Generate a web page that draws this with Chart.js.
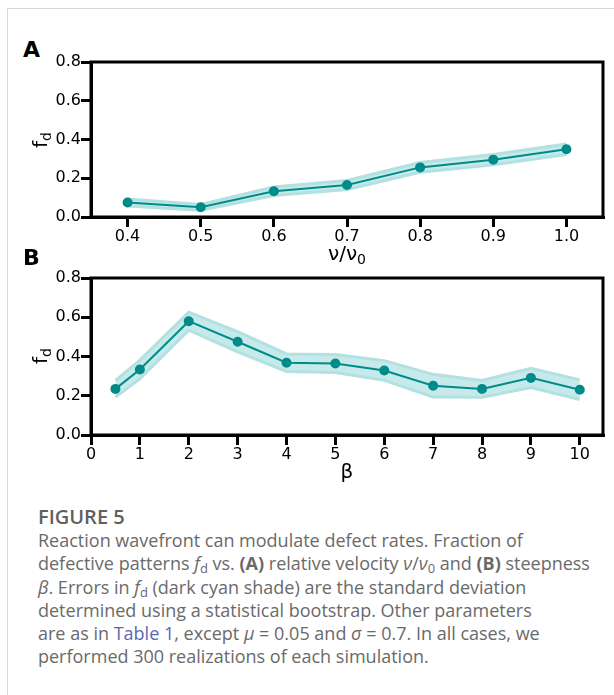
<!DOCTYPE html>
<html>
<head>
<meta charset="utf-8">
<script src="https://cdn.jsdelivr.net/npm/chart.js@4"></script>
<style>
  body { margin: 0; background: #fff; width: 614px; height: 695px; position: relative; overflow: hidden; font-family: "DejaVu Sans", sans-serif; }
  .frame { position: absolute; left: 7px; top: 8px; right: 0; bottom: 0; border-left: 1px solid #d9d9d9; border-top: 1px solid #d9d9d9; }
  .wrap { position: absolute; left: 0; width: 614px; height: 230px; }
  .panel { position: absolute; left: 23px; font: bold 22px "DejaVu Sans", sans-serif; color: #000; }
  .xtitle { position: absolute; left: 91px; width: 512px; text-align: center; font-size: 20px; color: #000; line-height: 22px; }
  .ytitle { position: absolute; width: 60px; text-align: center; font-size: 20px; line-height: 22px; color: #000; transform: rotate(-90deg); }
  sub { font-size: 70%; vertical-align: -0.25em; line-height: 0; }
  .caption { position: absolute; left: 38px; top: 505px; font-family: "Open Sans", sans-serif; color: #6a6a6a; font-size: 18px; line-height: 23.2px; white-space: nowrap; }
  .caption .head { font-size: 20px; font-weight: 600; color: #606060; margin-bottom: 1px; }
  .caption a { color: #5a67b8; text-decoration: none; }
  .caption sub { font-size: 72%; vertical-align: -0.2em; }
</style>
</head>
<body>
<div class="frame"></div>

<div class="panel" style="top:37px;">A</div>
<div class="wrap" style="top:40px;"><canvas id="chartA"></canvas></div>
<div class="xtitle" style="top:242px;"><span>ν/ν<sub>0</sub></span></div>
<div class="ytitle" style="left:10px; top:129px;">f<sub>d</sub></div>

<div class="panel" style="top:245px;">B</div>
<div class="wrap" style="top:260px;"><canvas id="chartB"></canvas></div>
<div class="xtitle" style="top:460px;">β</div>
<div class="ytitle" style="left:10px; top:345px;">f<sub>d</sub></div>

<div class="caption">
  <div class="head">FIGURE 5</div>
  Reaction wavefront can modulate defect rates. Fraction of<br>
  defective patterns <i>f</i><sub>d</sub> vs. <b>(A)</b> relative velocity <i>ν</i>/<i>ν</i><sub>0</sub> and <b>(B)</b> steepness<br>
  <i>β</i>. Errors in <i>f</i><sub>d</sub> (dark cyan shade) are the standard deviation<br>
  determined using a statistical bootstrap. Other parameters<br>
  are as in <a>Table 1</a>, except <i>μ</i> = 0.05 and <i>σ</i> = 0.7. In all cases, we<br>
  performed 300 realizations of each simulation.
</div>

<script>
// panel A: fraction of defective patterns vs relative velocity
const velocity = [0.4, 0.5, 0.6, 0.7, 0.8, 0.9, 1.0];
const fdVelocity = [0.075, 0.05, 0.133, 0.165, 0.256, 0.296, 0.350];
const errVelocity = [0.018, 0.015, 0.022, 0.023, 0.025, 0.027, 0.027];
const velocityTicks = [0.4, 0.5, 0.6, 0.7, 0.8, 0.9, 1.0];

// panel B: fraction of defective patterns vs steepness
const beta = [0.5, 1, 2, 3, 4, 5, 6, 7, 8, 9, 10];
const fdBeta = [0.235, 0.334, 0.580, 0.475, 0.368, 0.364, 0.329, 0.251, 0.235, 0.291, 0.231];
const errBeta = [0.042, 0.048, 0.046, 0.052, 0.045, 0.046, 0.050, 0.058, 0.043, 0.049, 0.050];
const betaTicks = [0, 1, 2, 3, 4, 5, 6, 7, 8, 9, 10];

const yTicks = [0.0, 0.2, 0.4, 0.6, 0.8];

const cyan = "#008b8b";

// full box around the plot area, like matplotlib spines
const boxPlugin = {
  id: "box",
  afterDraw(chart) {
    const a = chart.chartArea;
    const ctx = chart.ctx;
    ctx.save();
    ctx.strokeStyle = "#000";
    ctx.lineWidth = 3;
    ctx.strokeRect(a.left, a.top, a.right - a.left, a.bottom - a.top);
    ctx.restore();
  },
};

function makeChart(id, xs, ys, errs, xMin, xMax, xTicks, xFmt, padTop, axisHeight) {
  const pts = xs.map((x, i) => ({ x: x, y: ys[i] }));
  const upper = xs.map((x, i) => ({ x: x, y: ys[i] + errs[i] }));
  const lower = xs.map((x, i) => ({ x: x, y: ys[i] - errs[i] }));

  const axisFont = { family: "DejaVu Sans", size: 16 };
  const grid = { drawOnChartArea: false, drawTicks: true, tickLength: 10, lineWidth: 3, color: "#000" };

  return new Chart(document.getElementById(id), {
    type: "line",
    data: {
      datasets: [
        {
          data: pts,
          borderColor: cyan,
          backgroundColor: cyan,
          borderWidth: 2,
          pointRadius: 4,
          pointHoverRadius: 4,
          fill: false,
          tension: 0,
        },
        {
          data: upper,
          borderColor: "#b3e0e0",
          borderWidth: 3,
          pointRadius: 0,
          fill: false,
        },
        {
          data: lower,
          borderColor: "#b3e0e0",
          borderWidth: 3,
          pointRadius: 0,
          backgroundColor: "#c6eaea",
          fill: "-1",
        },
      ],
    },
    options: {
      responsive: true,
      maintainAspectRatio: false,
      animation: false,
      events: [],
      layout: { padding: { top: padTop, right: 11, left: 0, bottom: 0 } },
      plugins: { legend: { display: false }, tooltip: { enabled: false } },
      scales: {
        x: {
          type: "linear",
          min: xMin,
          max: xMax,
          afterBuildTicks: (s) => { s.ticks = xTicks.map((v) => ({ value: v })); },
          afterFit: (s) => { s.height = axisHeight; },
          ticks: { font: axisFont, color: "#000", padding: 0, maxRotation: 0, callback: xFmt },
          grid: grid,
          border: { display: true, width: 3, color: "#000" },
        },
        y: {
          min: 0,
          max: 0.8,
          afterBuildTicks: (s) => { s.ticks = yTicks.map((v) => ({ value: v })); },
          afterFit: (s) => { s.width = 91; },
          ticks: { font: axisFont, color: "#000", padding: 0, callback: (v) => v.toFixed(1) },
          grid: grid,
          border: { display: true, width: 3, color: "#000" },
        },
      },
    },
    plugins: [boxPlugin],
  });
}

makeChart("chartA", velocity, fdVelocity, errVelocity, 0.35, 1.05, velocityTicks, (v) => v.toFixed(1), 22, 53);
makeChart("chartB", beta, fdBeta, errBeta, 0, 10.475, betaTicks, (v) => String(v), 18, 55);
</script>
</body>
</html>
